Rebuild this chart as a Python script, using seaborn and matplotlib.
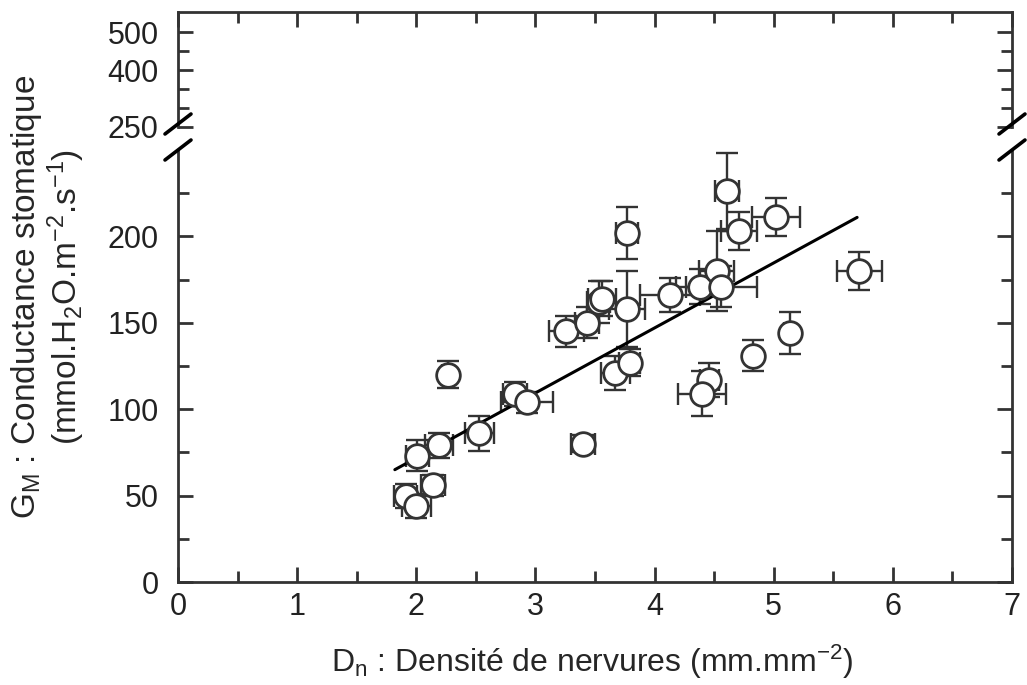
import numpy as np
import matplotlib
matplotlib.use("Agg")
import matplotlib.pyplot as plt
from matplotlib.lines import Line2D
import seaborn as sns

# vein density (mm.mm-2) and stomatal conductance
dn = [1.91, 2.00, 2.14, 2.01, 2.19, 2.27, 2.53, 2.83, 2.93, 3.40,
      3.26, 3.43, 3.53, 3.56, 3.77, 3.77, 3.67, 3.79, 4.13, 4.38,
      4.52, 4.56, 4.61, 4.71, 5.02, 5.72, 4.83, 5.14, 4.46, 4.40]
gm = [50, 44, 56, 73, 79, 120, 86, 109, 104, 80,
      145, 150, 162, 164, 158, 202, 121, 127, 166, 171,
      180, 171, 226, 203, 211, 180, 131, 144, 117, 109]
dn_err = [0.10, 0.12, 0.10, 0.10, 0.12, 0.05, 0.12, 0.10, 0.22, 0.10,
          0.15, 0.10, 0.10, 0.12, 0.15, 0.09, 0.12, 0.09, 0.25, 0.20,
          0.15, 0.30, 0.10, 0.15, 0.20, 0.19, 0.05, 0.05, 0.08, 0.20]
gm_err = [7, 7, 6, 9, 7, 8, 10, 7, 6, 5,
          9, 9, 12, 10, 22, 15, 10, 8, 10, 10,
          23, 12, 22, 11, 11, 11, 9, 12, 10, 13]

# regression line end points
fit_x = [1.82, 5.70]
fit_y = [65, 211]

sns.set_style("ticks")
plt.rcParams['font.family'] = ['Liberation Sans', 'DejaVu Sans']
plt.rcParams['mathtext.fontset'] = 'custom'
plt.rcParams['mathtext.rm'] = 'Liberation Sans'
plt.rcParams['mathtext.it'] = 'Liberation Sans:italic'

W, H = 1027, 685
fig = plt.figure(figsize=(W / 100, H / 100), dpi=100)

left, right = 178 / W, 1012 / W
ax = fig.add_axes([left, 1 - 582 / H, right - left, (582 - 150) / H])
ax_top = fig.add_axes([left, 1 - 127 / H, right - left, (127 - 12) / H])

dark = '#333333'

ax.errorbar(dn, gm, xerr=dn_err, yerr=gm_err, fmt='none', ecolor=dark,
            elinewidth=1.7, capsize=8, capthick=1.7, zorder=2)
sns.lineplot(x=fit_x, y=fit_y, ax=ax, color='black', linewidth=2.2, zorder=3)
sns.scatterplot(x=dn, y=gm, ax=ax, s=290, color='white', edgecolor=dark,
                linewidth=2.0, zorder=4, legend=False)

ax.set_xlim(0, 7)
ax.set_ylim(0, 250)
ax_top.set_xlim(0, 7)
ax_top.set_ylim(250, 553)

ax.set_xticks(range(0, 8))
ax.set_xticks(np.arange(0.5, 7, 1), minor=True)
ax.set_yticks([0, 50, 100, 150, 200])
ax.set_yticks([25, 75, 125, 175, 225], minor=True)

ax_top.set_xticks(range(0, 8))
ax_top.set_xticks(np.arange(0.5, 7, 1), minor=True)
ax_top.set_yticks([250, 400, 500])
ax_top.set_yticks([300, 350, 450], minor=True)

for a in (ax, ax_top):
    for s in a.spines.values():
        s.set_linewidth(2.0)
        s.set_color(dark)
    a.tick_params(which='both', direction='in', color=dark, width=2.0,
                  labelsize=22, labelcolor='#222222', right=True, top=True)
    a.tick_params(which='major', length=11)
    a.tick_params(which='minor', length=8)

ax.spines['top'].set_visible(False)
ax.tick_params(which='both', top=False)
ax.tick_params(axis='x', pad=7)
ax.tick_params(axis='y', pad=14)
ax_top.spines['bottom'].set_visible(False)
ax_top.tick_params(which='both', bottom=False, labelbottom=False)
ax_top.tick_params(axis='y', pad=14)

ax.set_xlabel('')
ax.set_ylabel('')

# break marks on both sides
for xs in (left, right):
    for yc in (124, 150):
        fig.add_artist(Line2D([xs - 13 / W, xs + 13 / W],
                              [1 - (yc + 10) / H, 1 - (yc - 10) / H],
                              color='black', linewidth=2.6))

fig.text(592 / W, 1 - 662 / H,
         r'D$_{\mathrm{n}}$ : Densité de nervures (mm.mm$^{\mathrm{-2}}$)',
         ha='center', va='center', fontsize=23)
fig.text(48 / W, 1 - 297 / H,
         'G$_{\\mathrm{M}}$ : Conductance stomatique\n'
         '(mmol.H$_{\\mathrm{2}}$O.m$^{\\mathrm{-2}}$.s$^{\\mathrm{-1}}$)',
         ha='center', va='center', rotation=90, fontsize=24,
         linespacing=1.05, multialignment='center')

fig.savefig('out.png', dpi=100)
